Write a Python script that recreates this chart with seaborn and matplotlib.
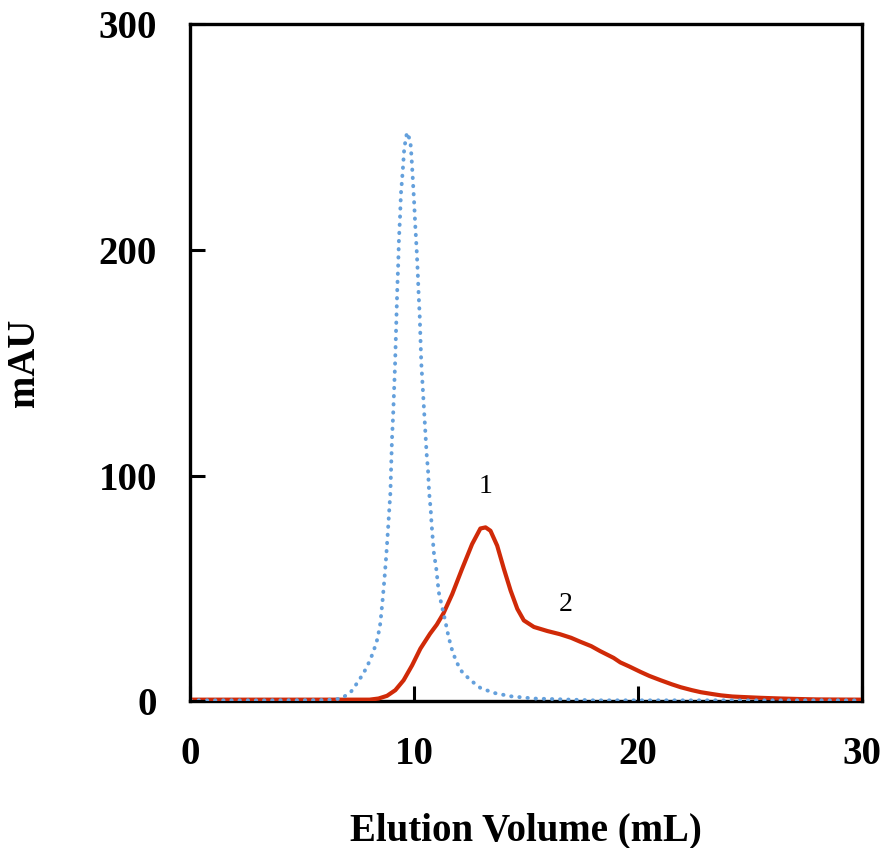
import matplotlib
matplotlib.use("Agg")
import matplotlib.pyplot as plt
import seaborn as sns
import pandas as pd

# Blue dotted trace (reference peak)
blue_x = [0, 3, 5.8, 6.39, 6.76, 7.17, 7.44, 7.73, 8.03, 8.22, 8.36, 8.48, 8.58, 8.67, 8.75,
          8.84, 8.88, 8.93, 8.96, 9.00, 9.05, 9.09, 9.14, 9.18, 9.22, 9.24, 9.28, 9.31, 9.36,
          9.40, 9.48, 9.55, 9.67, 9.82, 9.87, 9.93, 9.99, 10.04, 10.10, 10.15, 10.19, 10.24,
          10.31, 10.37, 10.43, 10.49, 10.55, 10.61, 10.66, 10.73, 10.77, 10.87, 10.98, 11.09,
          11.24, 11.39, 11.53, 11.69, 11.88, 12.13, 12.51, 12.95, 13.55, 14.30, 15.34, 16.38,
          18.0, 22.0, 30.0]
blue_y = [0.5, 0.5, 0.6, 0.8, 1.4, 4.3, 8.1, 12.5, 18.4, 23.6, 28.0, 34.6, 44.7, 55.0, 65.3,
          78.7, 85.1, 92.5, 102.8, 116.0, 126.3, 136.6, 149.8, 163.5, 177.0, 183.6, 194.0, 204.2,
          214.5, 224.8, 234.8, 245.1, 252.0, 248.3, 241.7, 231.5, 221.1, 210.9, 200.6, 190.3,
          180.7, 170.4, 149.8, 139.8, 129.6, 119.5, 109.4, 102.5, 92.5, 85.1, 78.5, 66.0, 58.7,
          48.4, 41.8, 35.2, 28.5, 22.6, 17.5, 13.1, 9.4, 6.0, 3.8, 2.3, 1.3, 1.0,
          0.5, 0.5, 0.5]

# Red solid trace (sample)
red_x = [0, 4, 8.0, 8.4, 8.78, 9.15, 9.52, 9.90, 10.27, 10.7, 11.0, 11.3, 11.69, 12.13, 12.58,
         12.95, 13.18, 13.40, 13.70, 14.00, 14.30, 14.60, 14.89, 15.34, 15.94, 16.5, 17.0, 17.4,
         17.9, 18.3, 18.9, 19.2, 19.6, 20.1, 20.5, 21.0, 21.5, 21.9, 22.4, 22.8, 23.3, 23.7,
         24.2, 24.6, 25.5, 26.4, 27.1, 28.0, 30.0]
red_y = [0.8, 0.8, 0.8, 1.3, 2.5, 5.0, 9.4, 16.0, 23.4, 30.0, 34.0, 39.0, 47.5, 58.7, 69.7,
         76.6, 77.1, 75.6, 69.0, 58.7, 49.1, 41.0, 35.9, 33.0, 31.2, 29.8, 28.2, 26.5,
         24.5, 22.3, 19.3, 17.3, 15.5, 13.1, 11.3, 9.4, 7.6, 6.3, 5.0, 4.1, 3.3, 2.7,
         2.2, 2.0, 1.6, 1.3, 1.1, 0.9, 0.8]

peak_labels = ["1", "2"]
peak_label_x = [13.2, 16.75]
peak_label_y = [95, 43]

x_ticks = [0, 10, 20, 30]
y_ticks = [0, 100, 200, 300]

sns.set_style("ticks")
plt.rcParams["font.family"] = ["Liberation Serif", "DejaVu Serif"]
plt.rcParams["xtick.direction"] = "in"
plt.rcParams["ytick.direction"] = "in"
plt.rcParams["xtick.major.size"] = 11
plt.rcParams["ytick.major.size"] = 11
plt.rcParams["xtick.major.width"] = 2.2
plt.rcParams["ytick.major.width"] = 2.2
plt.rcParams["xtick.color"] = "black"
plt.rcParams["ytick.color"] = "black"

fig = plt.figure(figsize=(8.86, 8.48), dpi=100)
ax = fig.add_axes([0.215, 0.1728, 0.758, 0.7988])

red_df = pd.DataFrame({"x": red_x, "y": red_y})
blue_df = pd.DataFrame({"x": blue_x, "y": blue_y})

sns.lineplot(data=red_df, x="x", y="y", ax=ax, color="#D02A08", lw=3.0,
             sort=False, estimator=None, zorder=3)
sns.lineplot(data=blue_df, x="x", y="y", ax=ax, color="#64A0DC", lw=2.8,
             sort=False, estimator=None, zorder=4, linestyle=(0, (0.1, 2.0)),
             dash_capstyle="round")

for t, lx, ly in zip(peak_labels, peak_label_x, peak_label_y):
    ax.text(lx, ly, t, ha="center", va="center", fontsize=20, color="black")

ax.set_xlim(0, 30)
ax.set_ylim(0, 300)
ax.set_xticks(x_ticks)
ax.set_yticks(y_ticks)
ax.tick_params(axis="x", bottom=True, top=False, direction="in", length=11, width=2.2,
               pad=25, labelsize=28, color="black", labelcolor="black")
ax.tick_params(axis="y", left=True, right=False, direction="in", length=11, width=2.2,
               pad=24, labelsize=28, color="black", labelcolor="black")
for tk in ax.xaxis.get_major_ticks() + ax.yaxis.get_major_ticks():
    tk.tick1line.set_visible(True)
    tk.tick1line.set_zorder(5)
ax.xaxis.set_zorder(5)
ax.yaxis.set_zorder(5)
for lab in ax.get_xticklabels() + ax.get_yticklabels():
    lab.set_fontweight("bold")
for s in ax.spines.values():
    s.set_visible(True)
    s.set_linewidth(2.4)
    s.set_color("black")

ax.set_xlabel("Elution Volume (mL)", fontsize=28, fontweight="bold", labelpad=28,
              color="black")
ax.set_ylabel("mAU", fontsize=28, fontweight="bold", labelpad=40, color="black")

fig.savefig("out.png", dpi=100, facecolor="white")
